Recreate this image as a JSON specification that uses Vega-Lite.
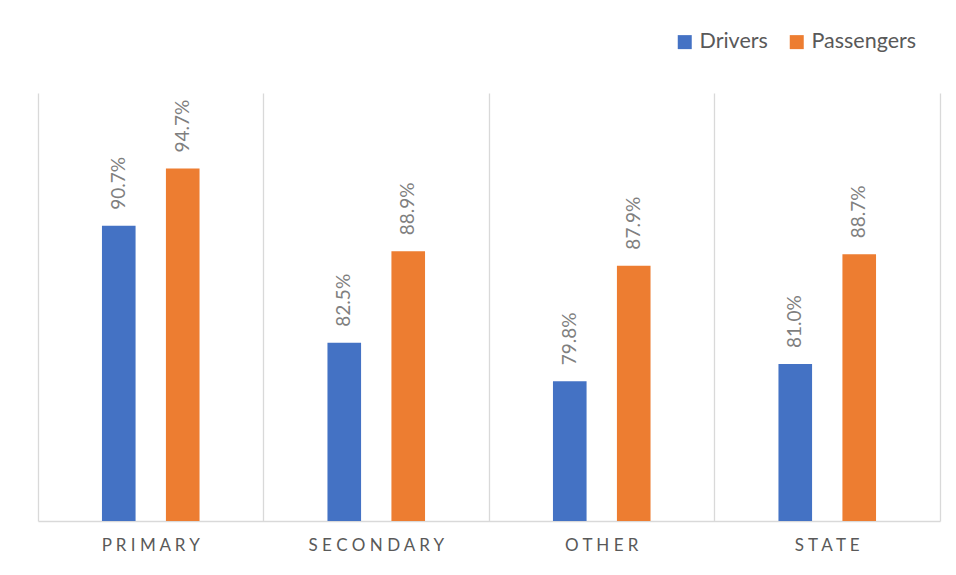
{
  "$schema": "https://vega.github.io/schema/vega-lite/v6.json",
  "width": 902,
  "height": 428,
  "autosize": {"type": "none"},
  "padding": {"left": 38, "top": 93, "right": 16, "bottom": 54},
  "background": "white",
  "config": {
    "view": {"stroke": null},
    "font": "Lato",
    "scale": {"offsetBandPaddingInner": 0.4746, "offsetBandPaddingOuter": 1.148}
  },
  "data": {
    "values": [
      {"category": "Primary", "series": "Drivers", "value": 0.907},
      {"category": "Primary", "series": "Passengers", "value": 0.947},
      {"category": "Secondary", "series": "Drivers", "value": 0.825},
      {"category": "Secondary", "series": "Passengers", "value": 0.889},
      {"category": "Other", "series": "Drivers", "value": 0.798},
      {"category": "Other", "series": "Passengers", "value": 0.879},
      {"category": "State", "series": "Drivers", "value": 0.810},
      {"category": "State", "series": "Passengers", "value": 0.887}
    ]
  },
  "encoding": {
    "x": {
      "field": "category",
      "type": "nominal",
      "sort": null,
      "scale": {"paddingInner": 0, "paddingOuter": 0},
      "axis": {
        "title": null,
        "bandPosition": 0,
        "labelExpr": "join(split(upper(datum.label), ''), ' ')",
        "labelAngle": 0,
        "labelFontSize": 17,
        "labelColor": "#595959",
        "labelPadding": 16,
        "ticks": false,
        "grid": true,
        "gridColor": "#d9d9d9",
        "gridWidth": 1.3,
        "domainColor": "#d9d9d9",
        "domainWidth": 1.5
      }
    },
    "xOffset": {
      "field": "series",
      "type": "nominal"
    },
    "y": {
      "field": "value",
      "type": "quantitative",
      "scale": {"domain": [0.7, 1.0], "nice": false, "zero": false},
      "axis": {
        "orient": "right",
        "title": null,
        "labels": false,
        "ticks": false,
        "grid": false,
        "domain": true,
        "domainColor": "#d9d9d9",
        "domainWidth": 1.3
      }
    }
  },
  "layer": [
    {
      "mark": {"type": "bar"},
      "encoding": {
        "y2": {"datum": 0.7},
        "color": {
          "field": "series",
          "type": "nominal",
          "scale": {"domain": ["Drivers", "Passengers"], "range": ["#4472C4", "#ED7D31"]},
          "legend": {
            "title": null,
            "orient": "none",
            "direction": "horizontal",
            "legendX": 636,
            "legendY": -62,
            "symbolType": "square",
            "symbolSize": 196,
            "symbolStrokeWidth": 0,
            "labelFontSize": 21.5,
            "labelColor": "#595959",
            "labelOffset": 4,
            "columnPadding": 18
          }
        }
      }
    },
    {
      "mark": {
        "type": "text",
        "angle": 270,
        "align": "left",
        "baseline": "middle",
        "dx": 16,
        "fontSize": 19,
        "color": "#7f7f7f"
      },
      "encoding": {
        "text": {"field": "value", "type": "quantitative", "format": ".1%"}
      }
    }
  ]
}
